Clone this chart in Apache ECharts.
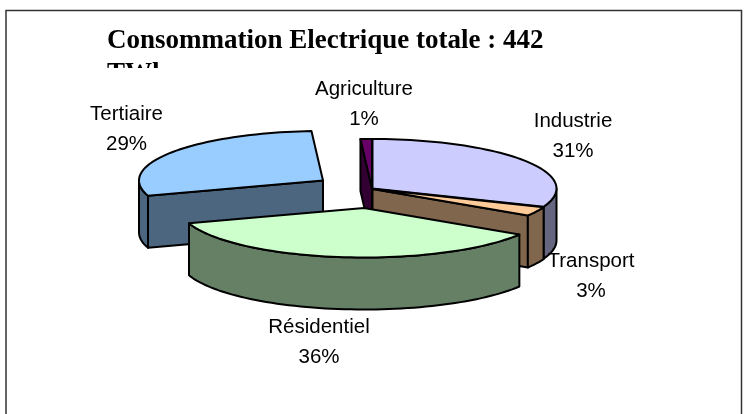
<!DOCTYPE html>
<html><head><meta charset="utf-8">
<style>html,body{margin:0;padding:0;background:#fff}#c{width:745px;height:414px}</style>
<script src="https://cdn.jsdelivr.net/npm/echarts@6/dist/echarts.min.js"></script>
</head><body><div id="c"></div>
<script>
const titleLines = ['Consommation Electrique totale : 442', 'TWh'];
const categories = ['Industrie', 'Transport', 'Résidentiel', 'Tertiaire', 'Agriculture'];
const shares = [31, 3, 36, 29, 1];

const topColors = ['#CCCCFF', '#FFCC99', '#CCFFCC', '#99CCFF', '#660066'];
const sideColors = ['#666680', '#80664D', '#668066', '#4D6680', '#330033'];
const centers = [[372.5, 188.5], [372.5, 189], [364, 208], [323, 180.5], [372, 188.5]];
const labelPos = [[573, 136.5], [591, 276.5], [319, 342.5], [126.5, 129], [364, 104]];
const drawOrder = [2, 3, 4, 1, 0];
const RX = 184, RY = 49.5, DEPTH = 52;

const total = shares.reduce((a, b) => a + b, 0);
const rim = (c, t, dy) => {
  const r = t * Math.PI / 180;
  return [c[0] + RX * Math.sin(r), c[1] - RY * Math.cos(r) + dy];
};
const arc = (c, a, b, dy) => {
  const pts = [];
  const n = Math.max(1, Math.ceil((b - a) / 2));
  for (let i = 0; i <= n; i++) pts.push(rim(c, a + (b - a) * i / n, dy));
  return pts;
};
const poly = (points, fill, z2) => ({
  type: 'polygon', z2, shape: { points },
  style: { fill, stroke: '#000', lineWidth: 2, lineJoin: 'round' }
});

function renderSlice(params, api) {
  const i = params.dataIndex;
  let before = 0;
  for (let k = 0; k < i; k++) before += shares[k];
  const a = before / total * 360;
  const b = (before + api.value(0)) / total * 360;
  const c = centers[i];
  const z = drawOrder[i] * 10;
  const bottom = [c[0], c[1] + DEPTH];
  const children = [];
  const wall = (t) => {
    const p = rim(c, t, 0), q = rim(c, t, DEPTH);
    children.push(poly([c, p, q, bottom], sideColors[i], z));
  };
  if (Math.sin(a * Math.PI / 180) < 0) wall(a);
  if (Math.sin(b * Math.PI / 180) > 0) wall(b);
  const o0 = Math.max(a, 90), o1 = Math.min(b, 270);
  if (o1 > o0) {
    children.push(poly(arc(c, o0, o1, 0).concat(arc(c, o0, o1, DEPTH).reverse()), sideColors[i], z + 1));
  }
  children.push(poly([c].concat(arc(c, a, b, 0)), topColors[i], z + 2));
  children.push({
    type: 'text', z2: 100, x: labelPos[i][0], y: labelPos[i][1],
    style: {
      text: categories[i] + '\n' + api.value(0) + '%',
      fill: '#000', font: '20.5px "Liberation Sans", Arial, sans-serif',
      lineHeight: 30, align: 'center', verticalAlign: 'middle'
    }
  });
  return { type: 'group', children };
}

const chart = echarts.init(document.getElementById('c'), null, { renderer: 'canvas' });
chart.setOption({
  animation: false,
  backgroundColor: '#fff',
  title: {
    text: titleLines.join('\n'), left: 107, top: 25, padding: 0,
    textStyle: { fontFamily: '"Liberation Serif", serif', fontWeight: 'bold', fontSize: 27, lineHeight: 33, color: '#000' }
  },
  graphic: [
    { type: 'rect', z: 10, shape: { x: 100, y: 68, width: 460, height: 24 }, style: { fill: '#fff' } },
    { type: 'polyline', z: 11, shape: { points: [[6, 414], [6, 10.5], [741.5, 10.5], [741.5, 414]] }, style: { fill: 'none', stroke: '#333', lineWidth: 1.5 } }
  ],
  series: [{
    type: 'custom', coordinateSystem: 'none', z: 20, silent: true,
    renderItem: renderSlice,
    data: shares
  }]
});
</script></body></html>
